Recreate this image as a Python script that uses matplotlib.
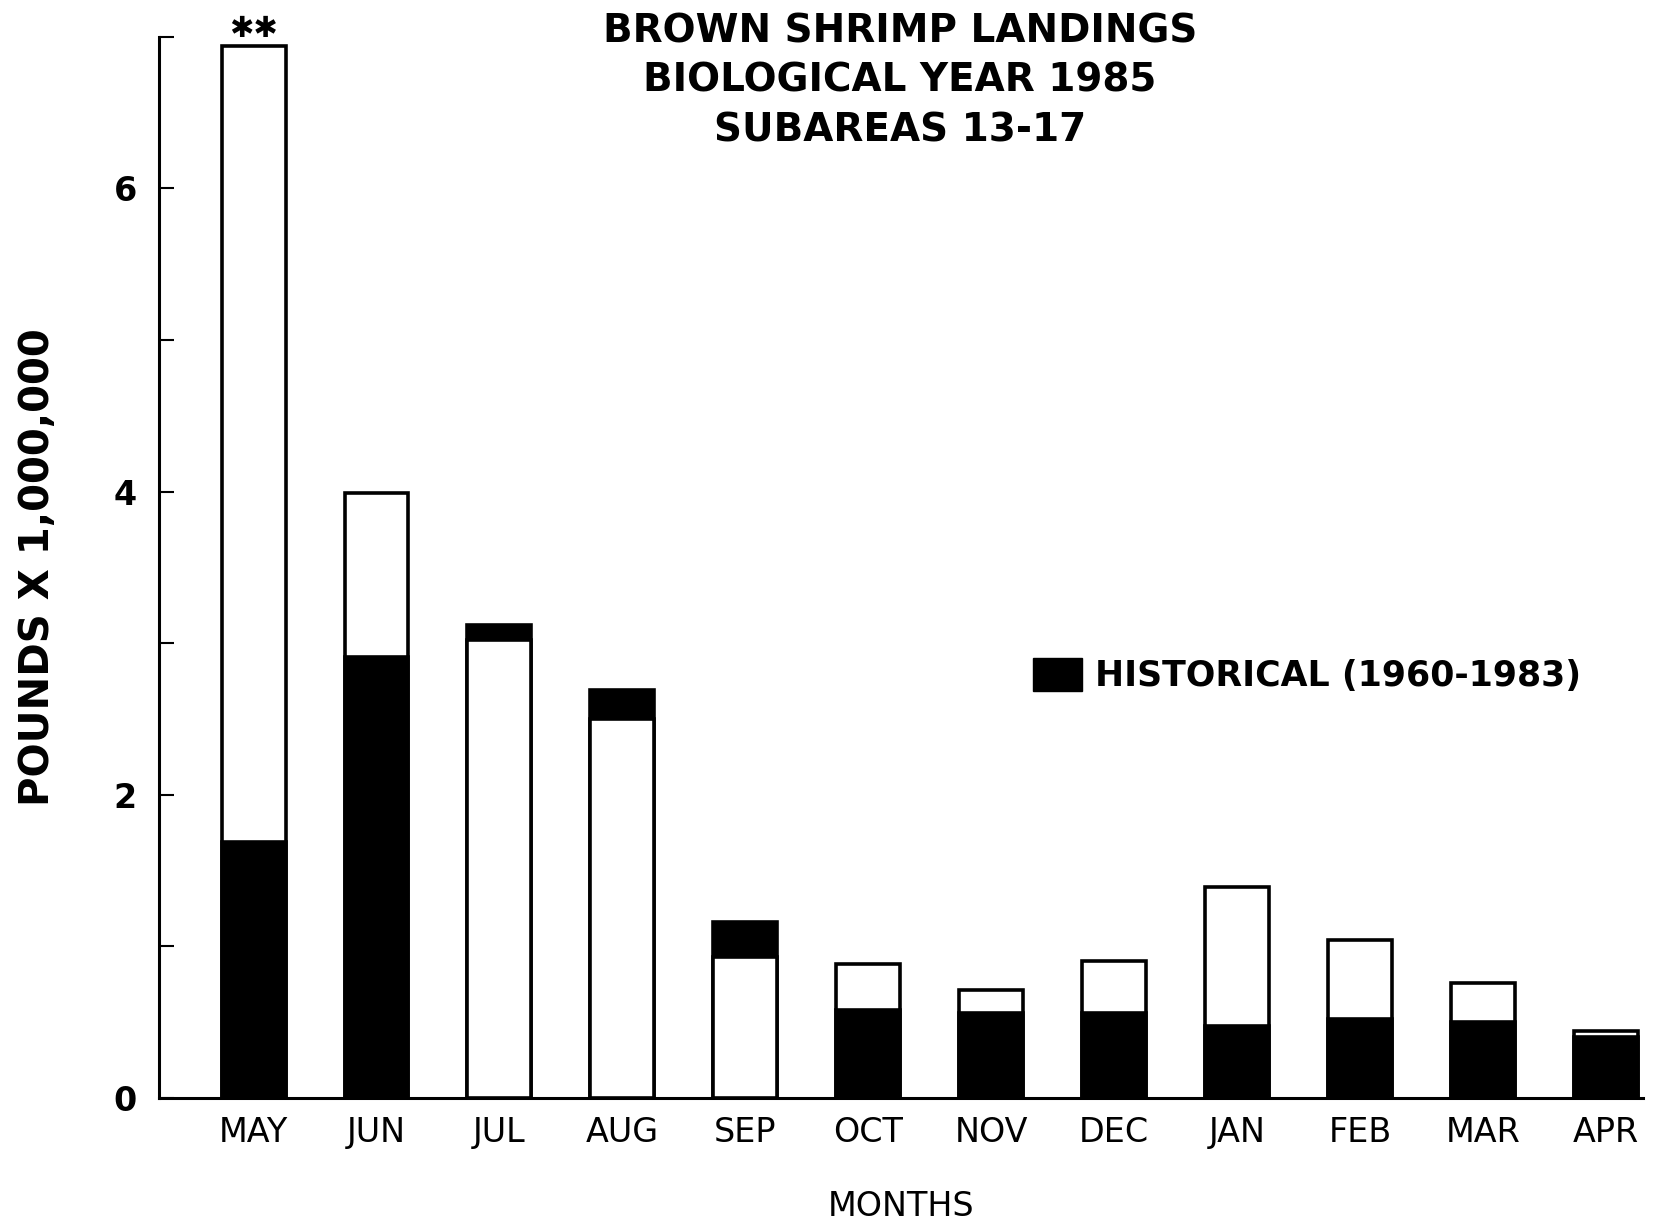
import numpy as np
import matplotlib
matplotlib.use('Agg')
import matplotlib.pyplot as plt
from matplotlib.patches import Patch

# data (pounds x 1,000,000)
months = ['MAY', 'JUN', 'JUL', 'AUG', 'SEP', 'OCT', 'NOV', 'DEC', 'JAN', 'FEB', 'MAR', 'APR']
landings_1985 = [6.94, 3.99, 3.02, 2.50, 0.93, 0.88, 0.71, 0.90, 1.39, 1.04, 0.76, 0.44]
historical = [1.69, 2.91, 3.12, 2.69, 1.16, 0.58, 0.56, 0.56, 0.47, 0.52, 0.50, 0.40]
y_ticks = [0, 1, 2, 3, 4, 5, 6, 7]
y_labels = ['0', '', '2', '', '4', '', '6', '']
title_lines = ['BROWN SHRIMP LANDINGS', 'BIOLOGICAL YEAR 1985', 'SUBAREAS 13-17']

plt.rcParams['font.family'] = ['DejaVu Sans']

fig = plt.figure(figsize=(16.6, 12.32), dpi=100)
ax = fig.add_axes([0.0957, 0.109, 0.894, 0.861])

x = np.arange(len(months))
w = 0.52
lw = 2.6
for i in range(len(months)):
    # taller bar goes behind, shorter one on top
    z_white = 2 if landings_1985[i] >= historical[i] else 3
    z_black = 5 - z_white
    ax.bar(x[i], landings_1985[i], w, facecolor='white', edgecolor='black',
           linewidth=lw, zorder=z_white)
    ax.bar(x[i], historical[i], w, facecolor='black', edgecolor='black',
           linewidth=lw, zorder=z_black)

# the ** marker over May
ax.text(x[0], landings_1985[0] + 0.02, '\u2731\u2731', ha='center', va='bottom',
        fontsize=21, color='black', family=['DejaVu Sans', 'Noto Sans CJK SC'])

ax.set_xlim(-0.77, 11.3)
ax.set_ylim(0, 7)
ax.set_xticks(x)
ax.set_xticklabels(months, fontsize=24)
ax.tick_params(axis='x', length=0, pad=13)
ax.set_yticks(y_ticks)
ax.set_yticklabels(y_labels, fontsize=24, fontweight='bold')
ax.tick_params(axis='y', direction='in', length=11, width=1.5, pad=16)

for s in ['top', 'right']:
    ax.spines[s].set_visible(False)
for s in ['left', 'bottom']:
    ax.spines[s].set_linewidth(2.2)

ax.set_xlabel('MONTHS', fontsize=24, labelpad=30)
ax.set_ylabel('POUNDS X 1,000,000', fontsize=29, fontweight='bold', labelpad=40)

fig.text(0.542, 0.990, '\n'.join(title_lines), ha='center', va='top',
         fontsize=28, fontweight='bold', linespacing=1.38)

leg = ax.legend(handles=[Patch(facecolor='black', edgecolor='black',
                               label='HISTORICAL (1960-1983)')],
                loc='center left', bbox_to_anchor=(0.589, 0.398), frameon=False,
                prop={'size': 25, 'weight': 'bold'}, handlelength=1.4,
                handleheight=1.1, handletextpad=0.4, borderpad=0, borderaxespad=0)

fig.savefig('out.png', dpi=100)
